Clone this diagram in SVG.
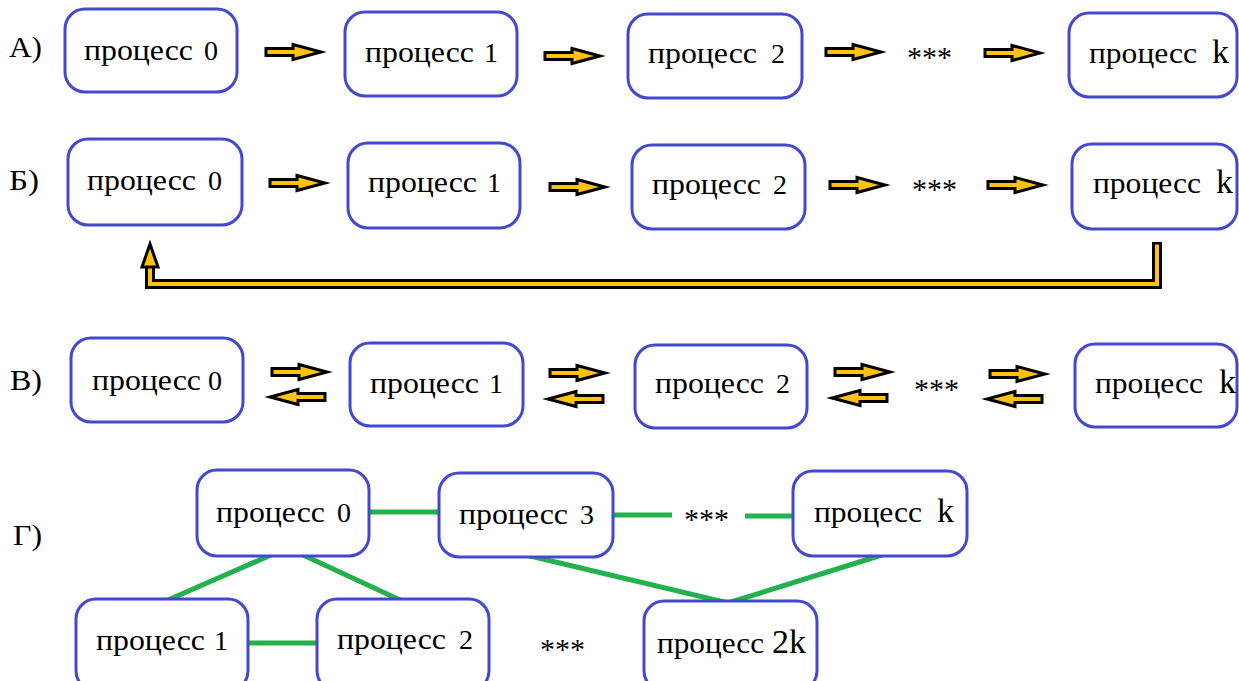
<svg xmlns="http://www.w3.org/2000/svg" xmlns:xlink="http://www.w3.org/1999/xlink" width="1239" height="681" viewBox="0 0 1239 681">
  <style>
    .box { fill: #ffffff; stroke: #4348cf; stroke-width: 3; }
    .t { font-family: "Liberation Serif", "DejaVu Serif", "Noto Serif", "FreeSerif", "Tinos", serif; font-size: 30px; fill: #000; }
    .d { font-family: "Liberation Serif", "DejaVu Serif", serif; font-size: 28px; fill: #000; }
    .k { font-family: "Liberation Serif", "DejaVu Serif", serif; font-size: 34px; fill: #000; }
    .lbl { font-family: "Liberation Serif", "DejaVu Serif", "Noto Serif", "FreeSerif", "Tinos", serif; font-size: 29px; fill: #000; }
    .dots { font-family: "Liberation Serif", "DejaVu Serif", serif; font-size: 30px; fill: #000; }
    .arrow { fill: #ffc20e; stroke: #000; stroke-width: 3; stroke-linejoin: miter; }
    .link { stroke: #22b14c; stroke-width: 5; fill: none; }
  </style>
  <defs>
    <!-- block arrow, tail at origin, pointing right -->
    <path id="arr" d="M0,-3.5 H27 V-7.5 L55,0 L27,7.5 V3.5 H0 Z"/>
  </defs>
  <rect width="1239" height="681" fill="#ffffff"/>

  <!-- row labels -->
  <text class="lbl" x="9" y="57" textLength="33" lengthAdjust="spacingAndGlyphs">А)</text>
  <text class="lbl" x="9" y="190" textLength="30" lengthAdjust="spacingAndGlyphs">Б)</text>
  <text class="lbl" x="10" y="390" textLength="32" lengthAdjust="spacingAndGlyphs">В)</text>
  <text class="lbl" x="13" y="545" textLength="29" lengthAdjust="spacingAndGlyphs">Г)</text>

  <!-- connectors -->
  <g id="connectors">
    <!-- row A -->
    <use xlink:href="#arr" class="arrow" transform="translate(266,52)"/>
    <use xlink:href="#arr" class="arrow" transform="translate(545,56)"/>
    <use xlink:href="#arr" class="arrow" transform="translate(826,52)"/>
    <use xlink:href="#arr" class="arrow" transform="translate(985,53)"/>
    <!-- row B -->
    <use xlink:href="#arr" class="arrow" transform="translate(270,183)"/>
    <use xlink:href="#arr" class="arrow" transform="translate(550,187)"/>
    <use xlink:href="#arr" class="arrow" transform="translate(830,185)"/>
    <use xlink:href="#arr" class="arrow" transform="translate(988,185)"/>
    <!-- return path from process k to process 0 -->
    <path d="M1157,242 V284 H150 V262" fill="none" stroke="#000" stroke-width="10" stroke-linejoin="miter"/>
    <path d="M1157,244.5 V284 H150 V262" fill="none" stroke="#ffc20e" stroke-width="4" stroke-linejoin="miter"/>
    <polygon points="150,244 142,267 158,267" class="arrow"/>
    <!-- row V -->
    <use xlink:href="#arr" class="arrow" transform="translate(272,372)"/>
    <use xlink:href="#arr" class="arrow" transform="translate(325,397) scale(-1,1)"/>
    <use xlink:href="#arr" class="arrow" transform="translate(550,373)"/>
    <use xlink:href="#arr" class="arrow" transform="translate(603,399) scale(-1,1)"/>
    <use xlink:href="#arr" class="arrow" transform="translate(835,372)"/>
    <use xlink:href="#arr" class="arrow" transform="translate(887,398) scale(-1,1)"/>
    <use xlink:href="#arr" class="arrow" transform="translate(990,374)"/>
    <use xlink:href="#arr" class="arrow" transform="translate(1042,399) scale(-1,1)"/>
    <!-- row G -->
    <line class="link" x1="369" y1="512" x2="439" y2="512"/>
    <line class="link" x1="613" y1="515" x2="672" y2="515"/>
    <line class="link" x1="745" y1="516" x2="793" y2="516"/>
    <line class="link" x1="271" y1="555" x2="168" y2="600"/>
    <line class="link" x1="303" y1="555" x2="400" y2="600"/>
    <line class="link" x1="248" y1="643" x2="317" y2="643"/>
    <polyline class="link" points="526,555 728,603 885,554"/>
  </g>

  <!-- ellipsis marks -->
  <text class="dots" x="907" y="67">***</text>
  <text class="dots" x="912" y="199">***</text>
  <text class="dots" x="914" y="399">***</text>
  <text class="dots" x="684" y="529">***</text>
  <text class="dots" x="540" y="659">***</text>

  <!-- row A: chain -->
  <g id="a0"><rect class="box" x="65" y="9" width="172" height="83" rx="20"/><text class="t" x="84" y="60" textLength="109" lengthAdjust="spacingAndGlyphs">процесс</text><text class="d" x="204" y="60">0</text></g>
  <g id="a1"><rect class="box" x="345" y="12" width="172" height="84" rx="20"/><text class="t" x="365" y="62" textLength="109" lengthAdjust="spacingAndGlyphs">процесс</text><text class="d" x="484" y="62">1</text></g>
  <g id="a2"><rect class="box" x="628" y="14" width="174" height="84" rx="20"/><text class="t" x="648" y="63" textLength="109" lengthAdjust="spacingAndGlyphs">процесс</text><text class="d" x="771" y="63">2</text></g>
  <g id="ak"><rect class="box" x="1069" y="13" width="168" height="84" rx="20"/><text class="t" x="1089" y="63" textLength="108" lengthAdjust="spacingAndGlyphs">процесс</text><text class="k" x="1212" y="63">k</text></g>

  <!-- row B: ring -->
  <g id="b0"><rect class="box" x="68" y="139" width="174" height="86" rx="20"/><text class="t" x="87" y="190" textLength="109" lengthAdjust="spacingAndGlyphs">процесс</text><text class="d" x="208" y="190">0</text></g>
  <g id="b1"><rect class="box" x="348" y="143" width="172" height="85" rx="20"/><text class="t" x="368" y="192" textLength="109" lengthAdjust="spacingAndGlyphs">процесс</text><text class="d" x="487" y="192">1</text></g>
  <g id="b2"><rect class="box" x="632" y="145" width="173" height="84" rx="20"/><text class="t" x="652" y="194" textLength="109" lengthAdjust="spacingAndGlyphs">процесс</text><text class="d" x="773" y="194">2</text></g>
  <g id="bk"><rect class="box" x="1072" y="144" width="165" height="85" rx="20"/><text class="t" x="1093" y="193" textLength="108" lengthAdjust="spacingAndGlyphs">процесс</text><text class="k" x="1216" y="193">k</text></g>

  <!-- row V: two-way chain -->
  <g id="v0"><rect class="box" x="71" y="338" width="172" height="84" rx="20"/><text class="t" x="92" y="390" textLength="109" lengthAdjust="spacingAndGlyphs">процесс</text><text class="d" x="208" y="390">0</text></g>
  <g id="v1"><rect class="box" x="350" y="343" width="173" height="83" rx="20"/><text class="t" x="370" y="393" textLength="109" lengthAdjust="spacingAndGlyphs">процесс</text><text class="d" x="489" y="393">1</text></g>
  <g id="v2"><rect class="box" x="635" y="345" width="172" height="83" rx="20"/><text class="t" x="655" y="393" textLength="109" lengthAdjust="spacingAndGlyphs">процесс</text><text class="d" x="776" y="393">2</text></g>
  <g id="vk"><rect class="box" x="1075" y="344" width="162" height="83" rx="20"/><text class="t" x="1095" y="393" textLength="108" lengthAdjust="spacingAndGlyphs">процесс</text><text class="k" x="1219" y="393">k</text></g>

  <!-- row G: tree -->
  <g id="g0"><rect class="box" x="197" y="470" width="172" height="86" rx="20"/><text class="t" x="216" y="522" textLength="109" lengthAdjust="spacingAndGlyphs">процесс</text><text class="d" x="337" y="522">0</text></g>
  <g id="g3"><rect class="box" x="439" y="473" width="174" height="84" rx="20"/><text class="t" x="459" y="524" textLength="109" lengthAdjust="spacingAndGlyphs">процесс</text><text class="d" x="580" y="524">3</text></g>
  <g id="gk"><rect class="box" x="793" y="471" width="174" height="85" rx="20"/><text class="t" x="814" y="522" textLength="108" lengthAdjust="spacingAndGlyphs">процесс</text><text class="k" x="937" y="522">k</text></g>
  <g id="g1"><rect class="box" x="76" y="599" width="172" height="92" rx="20"/><text class="t" x="96" y="650" textLength="109" lengthAdjust="spacingAndGlyphs">процесс</text><text class="d" x="214" y="650">1</text></g>
  <g id="g2"><rect class="box" x="317" y="599" width="172" height="92" rx="20"/><text class="t" x="337" y="649" textLength="109" lengthAdjust="spacingAndGlyphs">процесс</text><text class="d" x="459" y="649">2</text></g>
  <g id="g2k"><rect class="box" x="644" y="601" width="173" height="90" rx="20"/><text class="t" x="657" y="653" textLength="107" lengthAdjust="spacingAndGlyphs">процесс</text><text class="k" x="772" y="653">2k</text></g>
</svg>
